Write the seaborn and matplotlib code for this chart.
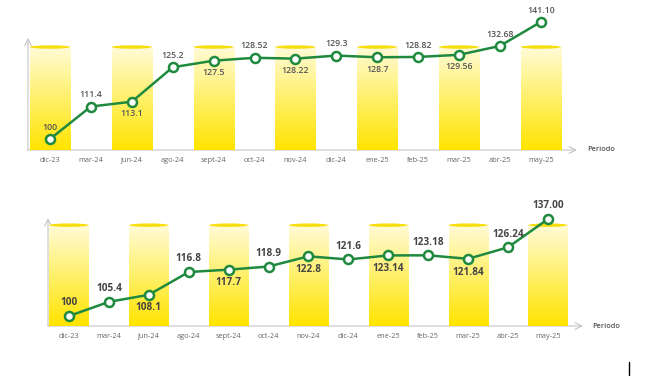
import numpy as np
import pandas as pd
import matplotlib
matplotlib.use("Agg")
import matplotlib.pyplot as plt
import seaborn as sns
from matplotlib.patches import Ellipse

periodos = ["dic-23", "mar-24", "jun-24", "ago-24", "sept-24", "oct-24", "nov-24",
            "dic-24", "ene-25", "feb-25", "mar-25", "abr-25", "may-25"]
serie_sup = [100, 111.4, 113.1, 125.2, 127.5, 128.52, 128.22,
             129.3, 128.7, 128.82, 129.56, 132.68, 141.10]
etiq_sup = ["100", "111.4", "113.1", "125.2", "127.5", "128.52", "128.22",
            "129.3", "128.7", "128.82", "129.56", "132.68", "141.10"]
serie_inf = [100, 105.4, 108.1, 116.8, 117.7, 118.9, 122.8,
             121.6, 123.14, 123.18, 121.84, 126.24, 137.00]
etiq_inf = ["100", "105.4", "108.1", "116.8", "117.7", "118.9", "122.8",
            "121.6", "123.14", "123.18", "121.84", "126.24", "137.00"]
# etiqueta arriba (1) o abajo (-1) del punto
posicion = [1, 1, -1, 1, -1, 1, -1, 1, -1, 1, -1, 1, 1]

sns.set_theme(style="white")
plt.rcParams['font.family'] = ['Open Sans', 'DejaVu Sans']

VERDE = "#1f8a3e"
W, H = 650, 388
fig = plt.figure(figsize=(6.5, 3.88), dpi=100)

# gradiente amarillo para las columnas
grad = np.linspace(0, 1, 256).reshape(-1, 1)
cmap = matplotlib.colors.LinearSegmentedColormap.from_list(
    "amarillo", ["#ffe400", "#fff06a", "#fffbd8"])


def panel(rect_px, xlim, ylim, bar_top, arrow_top, valores, etiquetas,
          lab_size, lab_color, lab_weight, off):
    x0, y0, x1, y1 = rect_px
    ax = fig.add_axes([x0 / W, 1 - y1 / H, (x1 - x0) / W, (y1 - y0) / H])
    ax.set_xlim(*xlim)
    ax.set_ylim(*ylim)
    idx = np.arange(len(periodos))
    # columnas de fondo
    for i in idx[::2]:
        ax.imshow(grad, extent=(i - 0.49, i + 0.49, ylim[0], bar_top),
                  cmap=cmap, aspect="auto", zorder=1, origin="lower")
        px_per_val = (y1 - y0) / (ylim[1] - ylim[0])
        ax.add_patch(Ellipse((i, bar_top), 0.98, 3.5 / px_per_val,
                             color="#f6de10", zorder=1.5, lw=0))
    df = pd.DataFrame({"i": idx, "v": valores})
    sns.lineplot(data=df, x="i", y="v", ax=ax, color=VERDE, lw=1.8,
                 marker="o", markersize=6.5, markerfacecolor="white",
                 markeredgecolor=VERDE, markeredgewidth=1.8, zorder=3)
    ax.set_xlim(*xlim)
    ax.set_ylim(*ylim)
    for i, v, t, p in zip(idx, valores, etiquetas, posicion):
        ax.annotate(t, (i, v), xytext=(0, off * p), textcoords="offset points",
                    ha="center", va="center", fontsize=lab_size,
                    color=lab_color, fontweight=lab_weight, zorder=4)
    for s in ax.spines.values():
        s.set_visible(False)
    ax.set_yticks([])
    ax.set_xticks(idx)
    ax.set_xticklabels(periodos, fontsize=5.3, color="#666666")
    ax.tick_params(axis="x", length=0, pad=5)
    ax.set_xlabel("")
    ax.set_ylabel("")
    fy = (arrow_top - ylim[0]) / (ylim[1] - ylim[0])
    ax.annotate("", xy=(0, fy), xytext=(0, 0), xycoords="axes fraction",
                arrowprops=dict(arrowstyle="->", color="#c4c4c4", lw=0.8,
                                shrinkA=0, shrinkB=0), zorder=0)
    ax.annotate("", xy=(1, 0), xytext=(0, 0), xycoords="axes fraction",
                arrowprops=dict(arrowstyle="->", color="#c4c4c4", lw=0.8,
                                shrinkA=0, shrinkB=0), zorder=0)
    ax.text(1.018, 0, "Periodo", transform=ax.transAxes, ha="left",
            va="center", fontsize=5.3, color="#555555", fontweight="semibold")
    ax.patch.set_alpha(0)
    return ax


panel((28, 10, 577, 150), (-0.538, 12.885), (96.14, 145.3), 132.3, 135.5,
      serie_sup, etiq_sup, 6.3, "#555555", "semibold", 8.5)
panel((48, 205, 583, 326), (-0.526, 12.88), (96.18, 142.4), 134.7, 137.4,
      serie_inf, etiq_inf, 7.2, "#444444", "bold", 9.5)

# cursor de texto de la captura original
fig.add_artist(plt.Line2D([629 / W, 629 / W], [1 - 362 / H, 1 - 375 / H],
                          color="black", lw=1.0))

fig.savefig("out.png", dpi=100)
